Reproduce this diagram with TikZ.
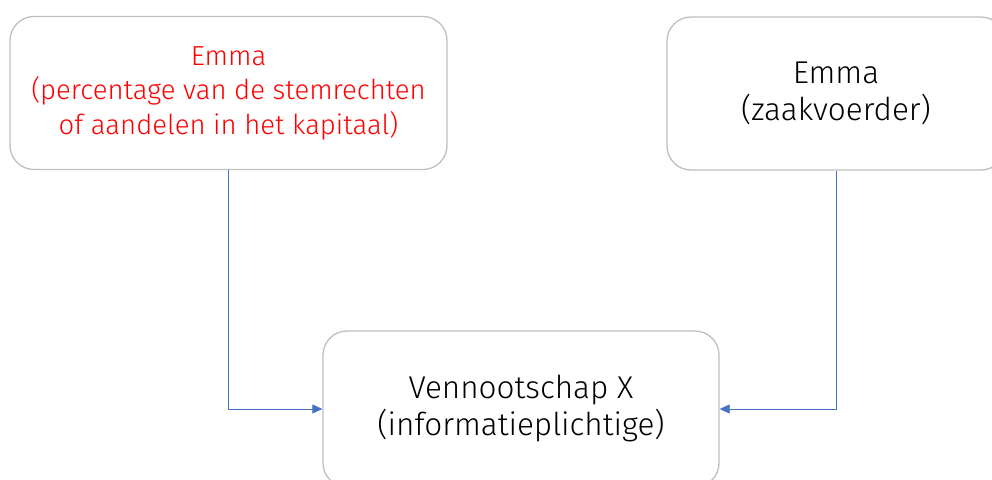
\documentclass[tikz,border=0pt]{standalone}
\usepackage{fontspec}
\setmainfont{Fira Sans Light}
\usetikzlibrary{arrows.meta}
\definecolor{boxgray}{HTML}{BFBFBF}
\definecolor{linkblue}{HTML}{4472C4}
\begin{document}
\begin{tikzpicture}[x=1pt,y=-1pt,
    entity/.style={draw=boxgray,line width=1.3pt,rounded corners=24pt,align=center,
      font=\fontsize{31.5}{37}\selectfont,inner sep=0pt},
    link/.style={draw=linkblue,line width=0.8pt,-{Triangle[length=10pt,width=9pt]}}]
      \useasboundingbox (0,0) rectangle (992,479);
      \node[entity,text=red,font=\fontsize{27.5}{34.5}\selectfont,
        minimum width=437pt,minimum height=153pt] (owner) at (228.5,93)
        {Emma\\(percentage van de stemrechten\\of aandelen in het kapitaal)};
      \node[entity,minimum width=338pt,minimum height=153pt] (manager) at (836,93.5)
        {Emma\\(zaakvoerder)};
      \node[entity,minimum width=396pt,minimum height=156pt] (company) at (521,409)
        {Vennootschap X\\(informatieplichtige)};
      \draw[link] (owner.south) |- (company.west);
      \draw[link] (manager.south) |- (company.east);
    \end{tikzpicture}
\end{document}
